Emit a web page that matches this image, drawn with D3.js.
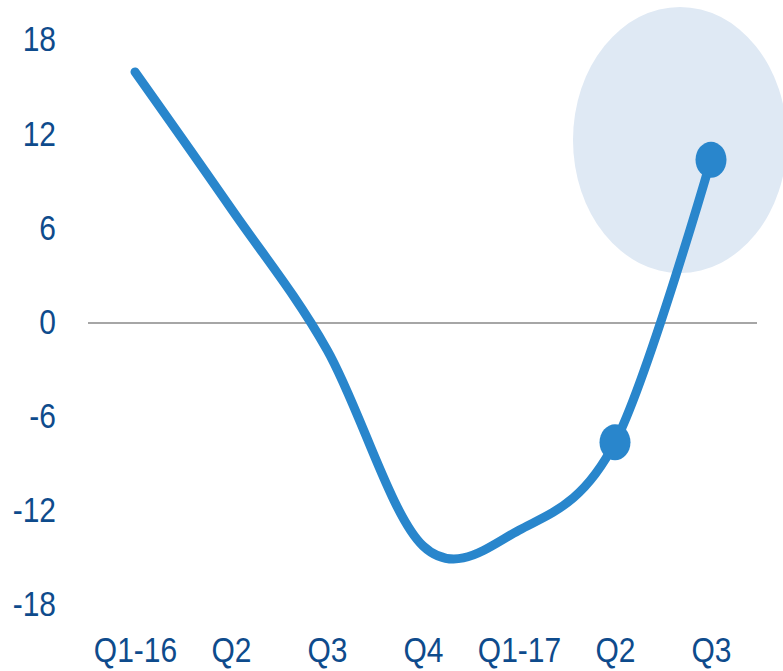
<!DOCTYPE html>
<html>
<head>
<meta charset="utf-8">
<script src="https://cdn.jsdelivr.net/npm/d3@7"></script>
<style>
  body { margin: 0; background: #fff; }
  text { font-family: "Liberation Sans", Arial, sans-serif; fill: #0e4b8c; }
</style>
</head>
<body>
<script>
var quarters = ["Q1-16", "Q2", "Q3", "Q4", "Q1-17", "Q2", "Q3"];
var values = [16, 7.3, -1.7, -14.2, -13.2, -7.6, 10.4];
var yTicks = [18, 12, 6, 0, -6, -12, -18];
var markedIdx = [5, 6];

var width = 783,
    height = 671;

var svg = d3.select("body").append("svg")
    .attr("width", width)
    .attr("height", height);

var x = d3.scalePoint()
    .domain(d3.range(quarters.length))
    .range([135, 711]);

var y = d3.scaleLinear()
    .domain([-18, 18])
    .range([605.5, 40.5]);

// highlight bubble behind last point
svg.append("ellipse")
    .attr("cx", 680)
    .attr("cy", 140)
    .attr("rx", 107)
    .attr("ry", 133)
    .style("fill", "#dfe9f4");

// zero line
svg.append("line")
    .attr("x1", 88).attr("x2", 757)
    .attr("y1", y(0)).attr("y2", y(0))
    .style("stroke", "#a6a6a6")
    .style("stroke-width", 2);

// labels in the picture are a bit taller than wide
var stretch = 1.15;

var yAxis = d3.axisLeft(y).tickValues(yTicks)
    .tickFormat(function (d) { return String(d); })
    .tickSize(0).tickPadding(0);
var gy = svg.append("g").attr("transform", "translate(56,0)").call(yAxis);
gy.select(".domain").remove();
gy.selectAll("text")
    .style("font-size", "30px")
    .attr("x", 0)
    .attr("dy", "0.3em")
    .attr("transform", "scale(1," + stretch + ")");

var xAxis = d3.axisBottom(x).tickFormat(function (i) { return quarters[i]; }).tickSize(0).tickPadding(0);
var gx = svg.append("g").attr("transform", "translate(0,662)").call(xAxis);
gx.select(".domain").remove();
gx.selectAll("text")
    .style("font-size", "30px")
    .attr("y", 0)
    .attr("dy", 0)
    .attr("transform", "scale(1," + stretch + ")");

var line = d3.line()
    .x(function (d, i) { return x(i); })
    .y(function (d) { return y(d); })
    .curve(d3.curveCatmullRom.alpha(0));

svg.append("path")
    .datum(values)
    .attr("d", line)
    .style("fill", "none")
    .style("stroke", "#2986cc")
    .style("stroke-width", 9)
    .style("stroke-linecap", "round");

svg.selectAll(".dot")
    .data(markedIdx)
    .enter().append("ellipse")
    .attr("class", "dot")
    .attr("cx", function (i) { return x(i); })
    .attr("cy", function (i) { return y(values[i]); })
    .attr("rx", 15.5)
    .attr("ry", 18)
    .style("fill", "#2986cc");
</script>
</body>
</html>
